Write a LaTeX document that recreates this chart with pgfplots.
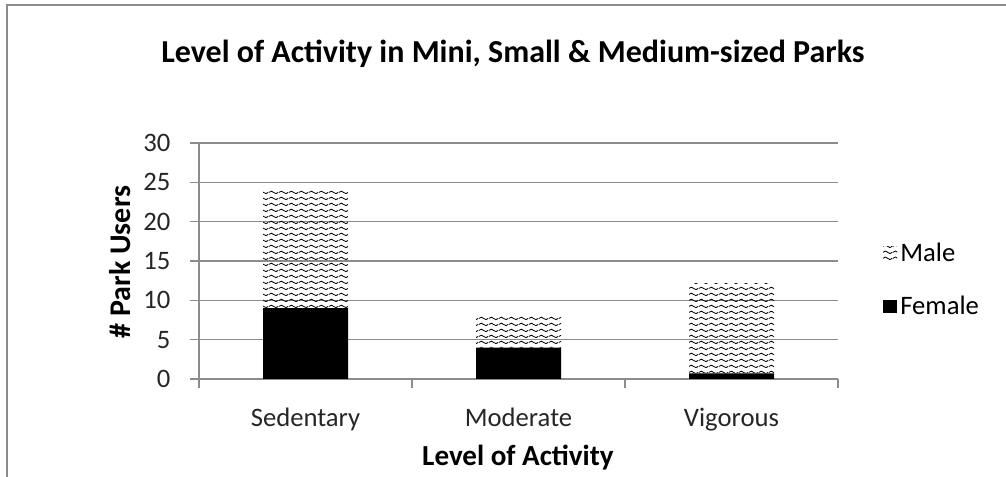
\documentclass[border=0pt]{standalone}
\usepackage{fontspec}
\setmainfont{Carlito}
\usepackage{pgfplots}
\pgfplotsset{compat=1.18}
\usetikzlibrary{patterns}
\definecolor{gridgray}{RGB}{140,140,140}
\pgfdeclarepatternformonly{waves}{\pgfqpoint{0pt}{0pt}}{\pgfqpoint{7.2pt}{4.5pt}}{\pgfqpoint{7.2pt}{4.5pt}}{%
  \pgfsetlinewidth{0.7pt}%
  \pgfpathmoveto{\pgfqpoint{0pt}{2.25pt}}%
  \pgfpathsine{\pgfqpoint{1.8pt}{1.05pt}}%
  \pgfpathcosine{\pgfqpoint{1.8pt}{-1.05pt}}%
  \pgfpathsine{\pgfqpoint{1.8pt}{-1.05pt}}%
  \pgfpathcosine{\pgfqpoint{1.8pt}{1.05pt}}%
  \pgfusepath{stroke}%
}
\begin{document}
\begin{tikzpicture}
\useasboundingbox (0,0) rectangle (754.5pt,357.75pt);
\draw[line width=1.6pt, color=gridgray] (5.25pt,-1pt) -- (5.25pt,354pt) -- (756pt,354pt);
\begin{axis}[
  at={(149.25pt,73.5pt)}, anchor=south west,
  scale only axis, width=479.25pt, height=177pt,
  xmin=0.5, xmax=3.5, ymin=0, ymax=30,
  ybar stacked, bar width=63.75pt,
  axis x line*=bottom, axis y line*=left,
  axis line style={-, gridgray, line width=1pt},
  ytick={0,5,...,30}, ymajorgrids,
  grid style={line width=1pt, gridgray},
  xtick={0.5,1.5,2.5,3.5}, xticklabels={},
  extra x ticks={1,2,3},
  extra x tick labels={Sedentary,Moderate,Vigorous},
  extra x tick style={major tick length=0pt, grid=none,
    xticklabel style={yshift=-18.5pt}},
  tick align=outside, major tick length=7pt,
  tick style={gridgray, line width=1pt},
  /pgf/number format/assume math mode=true,
  tick label style={font=\fontsize{20}{24}\selectfont, text=black!85},
  yticklabel style={xshift=-11pt},
  reverse legend,
  legend style={draw=none, fill=none, at={(1.07,0.42)}, anchor=west,
    font=\fontsize{20}{24}\selectfont, row sep=19.5pt, inner sep=0pt,
    nodes={inner sep=2.5pt}},
  legend cell align=left,
  legend image code/.code={\fill[#1] (0pt,-5.2pt) rectangle (10.5pt,5.2pt);},
]
\addplot[fill=black, draw=none] coordinates {(1,9) (2,4) (3,0.7)};
\addplot[pattern=waves, draw=none] coordinates {(1,15) (2,4) (3,11.5)};
\legend{Female,Male}
\end{axis}
\node[font=\bfseries\fontsize{24}{28}\selectfont, anchor=base] at (384.75pt,310.5pt) {Level of Activity in Mini, Small \& Medium-sized Parks};
\node[font=\bfseries\fontsize{21.8}{26}\selectfont, anchor=base] at (388.5pt,8.25pt) {Level of Activity};
\node[font=\bfseries\fontsize{22.5}{26}\selectfont, anchor=base, rotate=90] at (97.5pt,161.25pt) {\# Park Users};
\end{tikzpicture}
\end{document}
